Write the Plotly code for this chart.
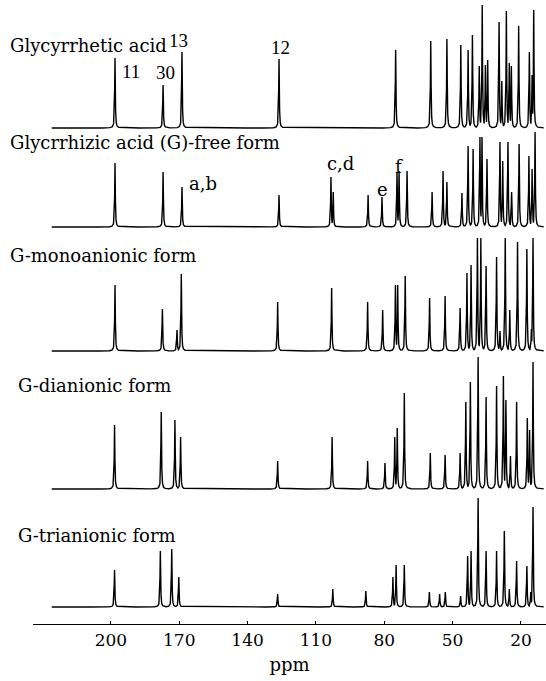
import numpy as np
import plotly.graph_objects as go

# ---- data (ppm, peak height in figure px units) ----
glycyrrhetic_ppm = [198.2, 177.1, 168.8, 126.2, 75.0, 59.6, 52.5, 46.4, 43.2, 41.3, 38.3, 37.0,
                    35.6, 34.6, 29.6, 28.4, 26.4, 25.1, 24.2, 21.0, 16.3, 15.1, 14.4]
glycyrrhetic_h = [70, 43, 76, 69, 78, 87, 89, 83, 78, 93, 62, 123,
                  63, 68, 106, 47, 117, 65, 62, 102, 76, 53, 118]

free_ppm = [198.2, 177.1, 168.8, 126.2, 103.4, 102.4, 87.1, 81.0, 74.4, 73.5, 70.0, 59.0,
            54.2, 52.5, 45.9, 43.2, 41.0, 38.0, 37.1, 34.9, 29.2, 28.0, 25.7, 24.1,
            20.8, 16.5, 15.1, 13.8]
free_h = [64, 55, 40, 32, 50, 35, 32, 30, 55, 56, 56, 35,
          56, 45, 34, 81, 78, 90, 90, 68, 85, 66, 85, 35,
          83, 71, 58, 95]

mono_ppm = [198.2, 177.4, 171.0, 169.1, 126.8, 103.1, 87.3, 80.7, 75.1, 74.1, 70.8, 60.1,
            53.3, 46.7, 43.7, 41.9, 39.1, 37.6, 35.3, 30.7, 29.2, 26.9, 24.9, 21.5,
            17.4, 15.4, 14.7]
mono_h = [66, 42, 21, 77, 49, 63, 49, 41, 66, 66, 75, 53,
          55, 43, 78, 86, 113, 113, 85, 94, 20, 113, 41, 109,
          102, 22, 113]

di_ppm = [198.4, 177.9, 171.9, 169.4, 126.8, 102.9, 87.3, 79.7, 75.4, 74.3, 71.2, 59.8,
          53.3, 46.7, 44.2, 42.2, 38.8, 35.3, 30.7, 27.7, 26.6, 24.6, 21.9, 17.2,
          16.2, 14.7]
di_h = [64, 77, 69, 52, 28, 52, 28, 26, 52, 61, 96, 36,
        34, 36, 87, 107, 132, 92, 103, 113, 89, 33, 87, 71,
        59, 127]

tri_ppm = [198.4, 178.3, 173.3, 170.2, 126.8, 102.6, 88.1, 76.2, 74.8, 71.2, 60.2, 55.7,
           53.2, 46.5, 43.4, 41.9, 38.8, 35.3, 30.7, 27.3, 25.1, 21.9, 17.4, 15.7, 14.7]
tri_h = [37, 56, 58, 30, 13, 18, 16, 30, 42, 42, 15, 13,
         15, 11, 51, 56, 109, 56, 56, 76, 18, 46, 41, 15, 100]

spectrum_names = ["Glycyrrhetic acid", "Glycrrhizic acid (G)-free form",
                  "G-monoanionic form", "G-dianionic form", "G-trianionic form"]
spectrum_offsets = [496, 397, 273, 135, 17]

tick_vals = [200, 170, 140, 110, 80, 50, 20]

peak_labels = ["11", "30", "13", "12"]
peak_label_ppm = [191.0, 176.2, 170.5, 125.6]
letter_labels = ["a,b", "c,d", "e", "f"]
letter_label_ppm = [159.7, 99.0, 80.8, 73.7]

# ---- build figure ----
W, H = 546, 681
ML, MR, MT, MB = 33, 0, 0, 57
PW, PH = W - ML - MR, H - MT - MB
XR = [234.2, 9.0]

def px_x(px):
    return (px - ML) / PW

def px_y(py):
    return (PH - (py - MT)) / PH

def spectrum(ppm, h, offset):
    grid = np.arange(10.0, 226.0, 0.03)
    grid = np.union1d(grid, np.array(ppm))
    gamma = 0.16
    y = np.zeros_like(grid)
    for p, a in zip(ppm, h):
        y = np.maximum(y, a / (1 + ((grid - p) / gamma) ** 2))
    return grid, y + offset

fig = go.Figure()
series = [(glycyrrhetic_ppm, glycyrrhetic_h), (free_ppm, free_h), (mono_ppm, mono_h),
          (di_ppm, di_h), (tri_ppm, tri_h)]
for (pp, hh), off, name in zip(series, spectrum_offsets, spectrum_names):
    gx, gy = spectrum(pp, hh, off)
    fig.add_trace(go.Scatter(x=gx, y=gy, mode="lines", name=name,
                             line=dict(color="black", width=1.4), showlegend=False,
                             hoverinfo="skip"))

serif = "DejaVu Serif"
title_pos = [(8, 46), (8, 143), (8, 255), (16, 385), (16, 535)]
for name, (lx, ly) in zip(spectrum_names, title_pos):
    fig.add_annotation(text=name, xref="paper", yref="paper", x=px_x(lx), y=px_y(ly),
                       xanchor="left", yanchor="middle", showarrow=False,
                       font=dict(family=serif, size=18, color="black"))

num_y = [71, 72, 40, 48]
for t, p, yy in zip(peak_labels, peak_label_ppm, num_y):
    fig.add_annotation(text=t, x=p, xref="x", yref="paper", y=px_y(yy),
                       xanchor="center", yanchor="middle", showarrow=False,
                       font=dict(family="Liberation Serif", size=19, color="black"))

let_y = [184, 164, 189, 166]
for t, p, yy in zip(letter_labels, letter_label_ppm, let_y):
    fig.add_annotation(text=t, x=p, xref="x", yref="paper", y=px_y(yy),
                       xanchor="center", yanchor="middle", showarrow=False,
                       font=dict(family=serif, size=18, color="black"))

fig.update_layout(
    width=W, height=H,
    margin=dict(l=ML, r=MR, t=MT, b=MB),
    paper_bgcolor="white", plot_bgcolor="white",
    showlegend=False,
    xaxis=dict(range=XR, showgrid=False, zeroline=False, showline=True,
               linecolor="black", linewidth=1, ticks="inside", ticklen=3,
               tickcolor="black", tickvals=tick_vals,
               ticktext=[str(v) for v in tick_vals],
               ticklabelstandoff=1,
               tickfont=dict(family=serif, size=17, color="black"),
               title=dict(text="ppm", font=dict(family=serif, size=18, color="black"),
                          standoff=8)),
    yaxis=dict(range=[0, PH], visible=False, showgrid=False, zeroline=False),
)

fig.write_html("out.html", config={"displayModeBar": False})
